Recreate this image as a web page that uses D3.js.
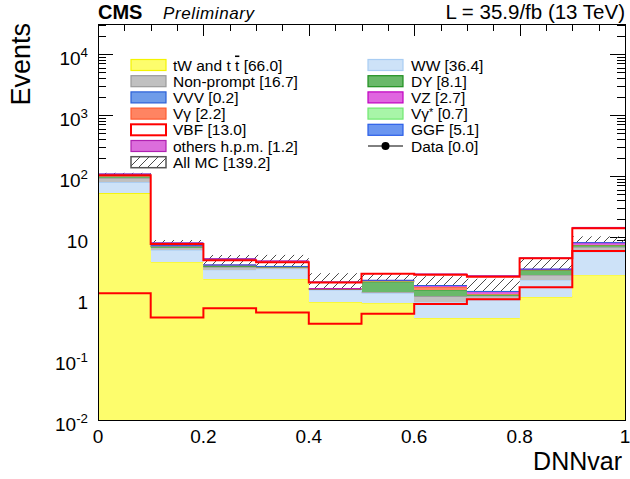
<!DOCTYPE html>
<html>
<head>
<meta charset="utf-8">
<script src="https://cdn.jsdelivr.net/npm/d3@7/dist/d3.min.js"></script>
<style>
  body { margin: 0; background: #fff; }
  svg { font-family: "Liberation Sans", Arial, Helvetica, sans-serif; }
</style>
</head>
<body>
<svg class="chart" width="630" height="479"></svg>
<script>
const binEdges = [0, 0.1, 0.2, 0.3, 0.4, 0.5, 0.6, 0.7, 0.8, 0.9, 1.0];

// events per DNNvar bin
const tWttbar = [51.9, 3.9, 2.05, 2.05, 0.86, 0.83, 0.47, 0.47, 1.04, 2.4];
const ww = [26.5, 2.2, 0.85, 0.95, 0.49, 0.37, 0.39, 0.46, 0.93, 3.3];
const nonPrompt = [13.65, 0.6, 0.3, 0.2, 0.03, 0.05, 0.2, 0.15, 0.4, 1.1];
const dy = [5.7, 0.25, 0.15, 0.03, 0.02, 0.6, 0.3, 0.05, 0.5, 0.5];
const vg = [1.7, 0.1, 0.05, 0.02, 0.01, 0.03, 0.15, 0.02, 0.02, 0.1];
const vgStar = [0.5, 0.03, 0.02, 0.01, 0.0, 0.02, 0.03, 0.02, 0.02, 0.05];
const vz = [1.68, 0.1, 0.05, 0.02, 0.01, 0.04, 0.05, 0.1, 0.05, 0.6];
const vvv = [0.1, 0.01, 0.01, 0.01, 0.0, 0.01, 0.01, 0.01, 0.02, 0.02];
const vbf = [1.2, 0.48, 0.68, 0.58, 0.38, 0.55, 0.8, 0.95, 1.5, 5.9];
const ggf = [4.4, 0.3, 0.2, 0.05, 0.02, 0.02, 0.02, 0.04, 0.02, 0.03];
const others = [0.5, 0.03, 0.04, 0.15, 0.01, 0.0, 0.06, 0.05, 0.02, 0.34];
const mcUnc = [6, 1.4, 1.35, 1.6, 1.1, 0.5, 0.6, 0.7, 1.4, 1.8];

const stackKeys = ['tW', 'WW', 'NonPrompt', 'DY', 'Vg', 'VgStar', 'VZ', 'VVV', 'VBF', 'GGF', 'others'];
const stackValues = [tWttbar, ww, nonPrompt, dy, vg, vgStar, vz, vvv, vbf, ggf, others];

const legendKeysLeft = ['tW', 'NonPrompt', 'VVV', 'Vg', 'VBF', 'others', 'AllMC'];
const legendNamesLeft = ['tW and t #bar{t}', 'Non-prompt', 'VVV', 'V\u03b3', 'VBF', 'others h.p.m.', 'All MC'];
const legendYieldsLeft = [66.0, 16.7, 0.2, 2.2, 13.0, 1.2, 139.2];
const legendKeysRight = ['WW', 'DY', 'VZ', 'VgStar', 'GGF', 'Data'];
const legendNamesRight = ['WW', 'DY', 'VZ', 'V\u03b3^{*}', 'GGF', 'Data'];
const legendYieldsRight = [36.4, 8.1, 2.7, 0.7, 5.1, 0.0];

const xTicks = [0, 0.2, 0.4, 0.6, 0.8, 1];
const yTicks = [1e-2, 1e-1, 1, 10, 1e2, 1e3, 1e4];

const FILL = {
  tW: '#fdfd6c', WW: '#cde2f8', NonPrompt: '#c0c0c0', DY: '#6ab96a', Vg: '#ff8462',
  VgStar: '#a8f5a8', VZ: '#e066e0', VVV: '#6f9ce9', GGF: '#6b96f0', others: '#dc6ddc',
};
const LINE = {
  tW: '#f4f400', WW: '#a9cdf3', NonPrompt: '#999999', DY: '#1f8f1f', Vg: '#ff5a30',
  VgStar: '#70e870', VZ: '#c000c0', VVV: '#2a60d8', GGF: '#2a5ee8', others: '#b020b0',
  VBF: '#ff0000',
};
const HATCH_COLOR = '#4a4a4a';

const LEFT = 98;
const RIGHT = 625;
const TOP = 24;
const BOTTOM = 420;

const svg = d3.select('.chart');
const defs = svg.append('defs');

const x = d3.scaleLinear().domain([0, 1]).range([LEFT, RIGHT]);
const y = d3.scaleLog().domain([0.01, 3.1e4]).range([BOTTOM, TOP]);
const yv = (v) => y(Math.max(v, y.domain()[0]));

const hatch = defs.append('pattern')
  .attr('id', 'hatch')
  .attr('patternUnits', 'userSpaceOnUse')
  .attr('width', 9)
  .attr('height', 9);
hatch.append('path')
  .attr('d', 'M0,9L9,0M-2,2L2,-2M7,11L11,7')
  .attr('stroke', HATCH_COLOR)
  .attr('stroke-width', 1)
  .attr('fill', 'none');

// ticks first, the histograms cover them like in the original
const yMinor = y.ticks().filter((v) => Math.abs(Math.log10(v) - Math.round(Math.log10(v))) > 1e-6);
const xMinor = d3.range(0, 1.0001, 0.05);

const tickAxis = (axis, values, size, transform) => {
  svg.append('g')
    .attr('transform', transform)
    .call(axis.tickValues(values).tickSize(-size).tickFormat(''))
    .call((g) => g.select('.domain').remove())
    .call((g) => g.selectAll('line').attr('stroke', '#000').attr('shape-rendering', 'crispEdges'));
};
tickAxis(d3.axisLeft(y), yTicks, 15, `translate(${LEFT},0)`);
tickAxis(d3.axisLeft(y), yMinor, 8, `translate(${LEFT},0)`);
tickAxis(d3.axisRight(y), yTicks, 15, `translate(${RIGHT},0)`);
tickAxis(d3.axisRight(y), yMinor, 8, `translate(${RIGHT},0)`);
tickAxis(d3.axisTop(x), xTicks, 12, `translate(0,${TOP})`);
tickAxis(d3.axisTop(x), xMinor, 7, `translate(0,${TOP})`);
tickAxis(d3.axisBottom(x), xTicks, 12, `translate(0,${BOTTOM})`);
tickAxis(d3.axisBottom(x), xMinor, 7, `translate(0,${BOTTOM})`);

const rows = binEdges.slice(0, -1).map((lo, i) => {
  const row = { lo, hi: binEdges[i + 1] };
  stackKeys.forEach((k, j) => { row[k] = stackValues[j][i]; });
  return row;
});
const stacked = d3.stack().keys(stackKeys)(rows);
const allMC = rows.map((r) => d3.sum(stackKeys.filter((k) => k !== 'VBF'), (k) => r[k]));

const plot = svg.append('g');

plot.selectAll('.unc')
  .data(rows)
  .join('rect')
  .attr('class', 'unc')
  .attr('x', (d) => x(d.lo))
  .attr('width', (d) => x(d.hi) - x(d.lo))
  .attr('y', (d, i) => yv(allMC[i] + mcUnc[i]))
  .attr('height', (d, i) => yv(allMC[i] - mcUnc[i]) - yv(allMC[i] + mcUnc[i]))
  .attr('fill', 'url(#hatch)');

stacked.forEach((s) => {
  if (s.key === 'VBF') return;
  const g = plot.append('g');
  g.selectAll('rect')
    .data(s)
    .join('rect')
    .attr('x', (d) => Math.round(x(d.data.lo)))
    .attr('width', (d) => Math.round(x(d.data.hi)) - Math.round(x(d.data.lo)))
    .attr('y', (d) => yv(d[1]))
    .attr('height', (d) => yv(d[0]) - yv(d[1]))
    .attr('fill', FILL[s.key])
    .attr('shape-rendering', 'crispEdges');
  g.selectAll('line')
    .data(s.filter((d) => d[1] - d[0] > 0))
    .join('line')
    .attr('x1', (d) => x(d.data.lo))
    .attr('x2', (d) => x(d.data.hi))
    .attr('y1', (d) => yv(d[1]))
    .attr('y2', (d) => yv(d[1]))
    .attr('stroke', LINE[s.key])
    .attr('stroke-width', 1);
});

const step = d3.line()
  .x((d) => x(d.edge))
  .y((d) => yv(d.v))
  .curve(d3.curveStepAfter);
const stepPoints = (vals) => vals.map((v, i) => ({ edge: binEdges[i], v }))
  .concat([{ edge: binEdges[binEdges.length - 1], v: vals[vals.length - 1] }]);

const vbfStack = stacked.find((s) => s.key === 'VBF');
plot.append('path')
  .attr('d', step(stepPoints(vbfStack.map((d) => d[1]))))
  .attr('fill', 'none')
  .attr('stroke', LINE.VBF)
  .attr('stroke-width', 2);

plot.append('path')
  .attr('d', step(stepPoints(vbf)))
  .attr('fill', 'none')
  .attr('stroke', LINE.VBF)
  .attr('stroke-width', 2);

svg.append('rect')
  .attr('x', LEFT)
  .attr('y', TOP)
  .attr('width', RIGHT - LEFT)
  .attr('height', BOTTOM - TOP)
  .attr('fill', 'none')
  .attr('stroke', '#000')
  .attr('shape-rendering', 'crispEdges');

// text with #bar{..} and ^{..} markup
const richText = (text, str, supShift) => {
  let raised = false;
  str.split(/(#bar\{[^}]*\}|\^\{[^}]*\})/).filter((s) => s).forEach((part) => {
    const t = text.append('tspan');
    if (part.startsWith('^{')) {
      t.attr('dy', -supShift).attr('font-size', '0.7em').text(part.slice(2, -1));
      raised = true;
      return;
    }
    if (raised) {
      t.attr('dy', supShift);
      raised = false;
    }
    if (part.startsWith('#bar{')) {
      t.style('text-decoration', 'overline').text(part.slice(5, -1));
    } else {
      t.text(part);
    }
  });
};

svg.append('g')
  .selectAll('text')
  .data(xTicks)
  .join('text')
  .attr('x', (d) => x(d))
  .attr('y', 443)
  .attr('text-anchor', 'middle')
  .attr('font-size', 19)
  .text((d) => String(d));

svg.append('g')
  .selectAll('text')
  .data(yTicks)
  .join('text')
  .attr('x', 88)
  .attr('y', (d) => y(d) + 11)
  .attr('text-anchor', 'end')
  .attr('font-size', 19)
  .each(function label(d) {
    const e = Math.round(Math.log10(d));
    const str = e === 0 ? '1' : e === 1 ? '10' : `10^{${e}}`;
    richText(d3.select(this), str, 8);
  });

svg.append('text')
  .attr('transform', `translate(30,${TOP - 1})rotate(-90)`)
  .attr('text-anchor', 'end')
  .attr('font-size', 27)
  .text('Events');

svg.append('text')
  .attr('x', 622)
  .attr('y', 470)
  .attr('text-anchor', 'end')
  .attr('font-size', 25)
  .text('DNNvar');

svg.append('text')
  .attr('x', LEFT)
  .attr('y', 19)
  .attr('font-size', 20)
  .attr('font-weight', 'bold')
  .text('CMS');

svg.append('text')
  .attr('x', 163)
  .attr('y', 19)
  .attr('font-size', 17)
  .attr('font-style', 'italic')
  .attr('letter-spacing', 0.6)
  .text('Preliminary');

svg.append('text')
  .attr('x', RIGHT)
  .attr('y', 19)
  .attr('text-anchor', 'end')
  .attr('font-size', 20.5)
  .text('L = 35.9/fb (13 TeV)');

const drawLegend = (keys, names, yields, boxX, textX) => {
  const g = svg.append('g');
  keys.forEach((key, i) => {
    const cy = 65 + i * 16.2;
    if (key === 'Data') {
      g.append('line')
        .attr('x1', boxX).attr('x2', boxX + 35)
        .attr('y1', cy).attr('y2', cy)
        .attr('stroke', '#000');
      g.append('circle')
        .attr('cx', boxX + 17.5).attr('cy', cy).attr('r', 4)
        .attr('fill', '#000');
    } else {
      const box = g.append('rect')
        .attr('x', boxX).attr('y', cy - 5.5)
        .attr('width', 35).attr('height', 11);
      if (key === 'VBF') {
        box.attr('fill', '#fff').attr('stroke', LINE.VBF).attr('stroke-width', 2);
      } else if (key === 'AllMC') {
        box.attr('fill', 'url(#hatch)').attr('stroke', '#555').attr('stroke-width', 1.5);
      } else {
        box.attr('fill', FILL[key]).attr('stroke', LINE[key]).attr('stroke-width', 1.2);
      }
    }
    const t = g.append('text')
      .attr('x', textX)
      .attr('y', cy + 5.5)
      .attr('font-size', 15.5);
    richText(t, `${names[i]} [${yields[i].toFixed(1)}]`, 3);
  });
};
drawLegend(legendKeysLeft, legendNamesLeft, legendYieldsLeft, 131, 173);
drawLegend(legendKeysRight, legendNamesRight, legendYieldsRight, 368, 411);
</script>
</body>
</html>
